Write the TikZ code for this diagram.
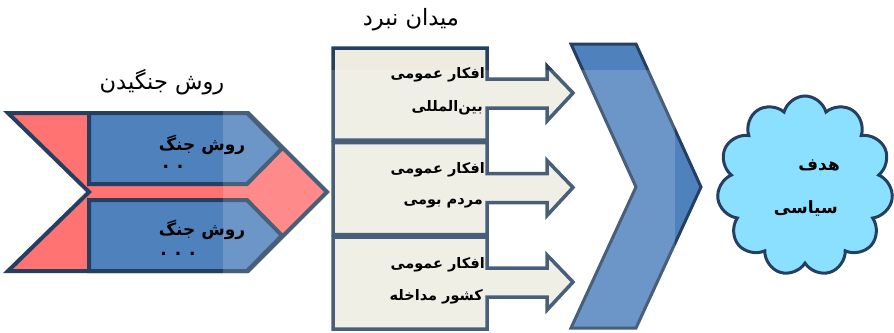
\documentclass[tikz,border=0pt]{standalone}
\usepackage{fontspec}
\newfontfamily\farsi[Script=Arabic]{DejaVu Sans}
\TeXXeTstate=1
\usepackage{tikz}
\usetikzlibrary{shapes.symbols, calc}
\definecolor{borderColor}{RGB}{36,63,96}
\definecolor{warColor}{RGB}{255,115,115}
\definecolor{methodColor}{RGB}{79,129,189}
\definecolor{fieldColor}{RGB}{238,236,225}
\definecolor{goalColor}{RGB}{140,224,255}

\begin{document}
\begin{tikzpicture}[
    x=1pt, y=-1pt,
    edge/.style={draw=borderColor, line width=4pt, line join=miter},
    titletext/.style={font=\farsi\fontsize{22.5}{25}\selectfont, inner sep=0pt},
    boxtext/.style={font=\farsi\bfseries\fontsize{14.5}{16}\selectfont, inner sep=0pt},
    methodtext/.style={font=\farsi\bfseries\fontsize{17}{19}\selectfont, inner sep=0pt}
]
    \useasboundingbox (0,0) rectangle (894,332);

    % Fighting methods chevron
    \draw[edge, fill=warColor] (8,113) -- (248,113) -- (327,192) -- (248,271) -- (8,271) -- (89,192) -- cycle;
    \draw[edge, fill=methodColor] (89,113) -- (247,113) -- (282,148.5) -- (247,184) -- (89,184) -- cycle;
    \draw[edge, fill=methodColor] (89,200) -- (247,200) -- (282,235.5) -- (247,271) -- (89,271) -- cycle;

    % Battlefield boxes
    \foreach \y in {94, 188.5, 283} {
        \draw[edge, line width=3.5pt, fill=fieldColor] (333,\y-46) -- (487,\y-46) -- (487,\y-15) -- (547,\y-15) -- (547,\y-28) -- (573,\y-1) -- (547,\y+27) -- (547,\y+14) -- (487,\y+14) -- (487,\y+46) -- (333,\y+46) -- cycle;
    }

    % Big chevron
    \draw[edge, line width=3pt, fill=methodColor] (571,44) -- (636,44) -- (701,187) -- (636,328) -- (571,328) -- (636,187) -- cycle;

    % Faded band
    \fill[white, opacity=0.17] (223,70) rectangle (675,332);

    % Goal
    \node[cloud, cloud puffs=11, draw=borderColor, line width=3pt, fill=goalColor, minimum width=176pt, minimum height=180pt, aspect=1] (goal) at (805,186) {};
    \node[methodtext, anchor=east] (goal1) at (840,165) {\beginR هدف\endR};
    \node[methodtext, anchor=east] (goal2) at (838,208) {\beginR سیاسی\endR};

    % Titles
    \node[titletext] (methods) at (162,82) {\beginR روش جنگیدن\endR};
    \node[titletext] (field) at (411,20) {\beginR میدان نبرد\endR};

    % Method labels
    \node[methodtext] (soft) at (202,145) {\beginR روش جنگ\endR};
    \node[methodtext] (softdots) at (173,167) {. .};
    \node[methodtext] (hard) at (202,230) {\beginR روش جنگ\endR};
    \node[methodtext] (harddots) at (178,254) {. . .};

    % Public opinion labels
    \node[boxtext, anchor=east] (intl1) at (485,75) {\beginR افکار عمومی\endR};
    \node[boxtext, anchor=east] (intl2) at (483,108) {\beginR بین‌المللی\endR};
    \node[boxtext, anchor=east] (native1) at (485,170) {\beginR افکار عمومی\endR};
    \node[boxtext, anchor=east] (native2) at (483,203) {\beginR مردم بومی\endR};
    \node[boxtext, anchor=east] (inter1) at (485,265) {\beginR افکار عمومی\endR};
    \node[boxtext, anchor=east] (inter2) at (483,297) {\beginR کشور مداخله\endR};
\end{tikzpicture}
\end{document}
